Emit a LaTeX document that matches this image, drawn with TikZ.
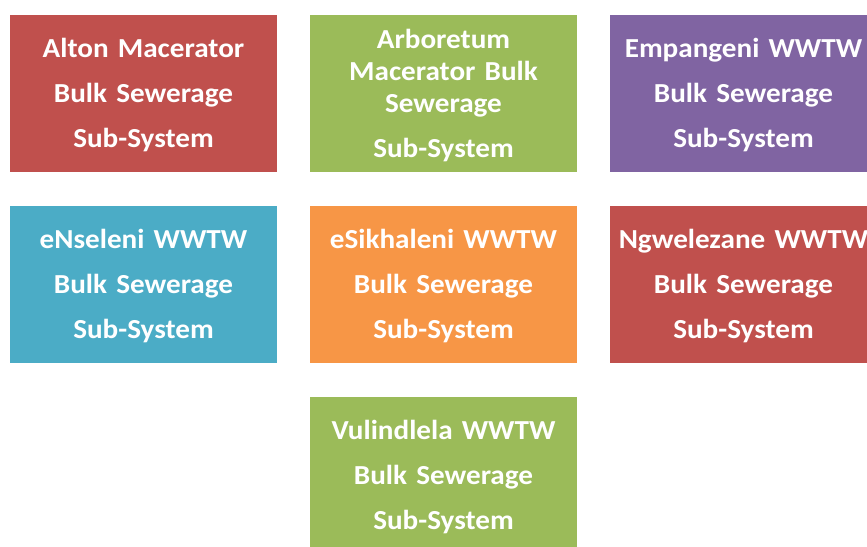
\documentclass[tikz,border=0pt]{standalone}
\usepackage{fontspec}
\setmainfont{Carlito}[FakeStretch=1.06, WordSpace=0.75]
\definecolor{cred}{HTML}{C0504D}
\definecolor{cgreen}{HTML}{9BBB59}
\definecolor{cpurple}{HTML}{8064A2}
\definecolor{cteal}{HTML}{4BACC6}
\definecolor{corange}{HTML}{F79646}
\tikzset{
  sysbox/.style={fill=#1, draw=none, minimum width=267pt, minimum height=157pt,
    inner sep=0pt, text=white, align=center, text width=264pt,
    font=\fontsize{27.5}{32}\selectfont\bfseries},
  txt/.style={inner sep=0pt, text=white, align=center, text width=264pt,
    font=\fontsize{27.5}{32}\selectfont\bfseries},
}
\begin{document}
\begin{tikzpicture}[x=1pt,y=-1pt]
\useasboundingbox (0,0) rectangle (867,546);
\clip (0,0) rectangle (867,546);
\fill[white] (0,0) rectangle (867,546);
\node[sysbox=cred] (alton) at (143.5,93.5) {};
\node[txt] (altont) at (143.5,95.5) {Alton Macerator\\[13pt]Bulk Sewerage\\[13pt]Sub-System};
\node[sysbox=cgreen] (arbor) at (443.5,93.5) {};
\node[txt] (arbort) at (443.5,95.5) {Arboretum\\Macerator Bulk\\Sewerage\\[13pt]Sub-System};
\node[sysbox=cpurple] (emp) at (743.5,93.5) {};
\node[txt] (empt) at (743.5,95.5) {Empangeni WWTW\\[13pt]Bulk Sewerage\\[13pt]Sub-System};
\node[sysbox=cteal] (ens) at (143.5,284.5) {};
\node[txt] (enst) at (143.5,286.5) {eNseleni WWTW\\[13pt]Bulk Sewerage\\[13pt]Sub-System};
\node[sysbox=corange] (esi) at (443.5,284.5) {};
\node[txt] (esit) at (443.5,286.5) {eSikhaleni WWTW\\[13pt]Bulk Sewerage\\[13pt]Sub-System};
\node[sysbox=cred] (ngw) at (743.5,284.5) {};
\node[txt] (ngwt) at (743.5,286.5) {Ngwelezane WWTW\\[13pt]Bulk Sewerage\\[13pt]Sub-System};
\node[sysbox=cgreen] (vul) at (443.5,475) {};
\node[txt] (vult) at (443.5,477) {Vulindlela WWTW\\[13pt]Bulk Sewerage\\[13pt]Sub-System};
\end{tikzpicture}
\end{document}
